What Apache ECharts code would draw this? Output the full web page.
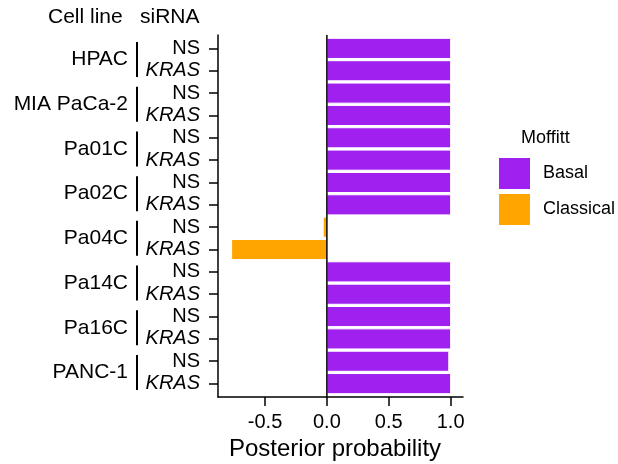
<!DOCTYPE html>
<html lang="en">
<head>
  <meta charset="UTF-8" />
  <title>Posterior probability by cell line</title>
  <script src="https://cdn.jsdelivr.net/npm/echarts@6/dist/echarts.min.js"></script>
  <style>
    html, body { margin: 0; padding: 0; width: 100%; height: 100%; background: #fff; overflow: hidden; }
    #chart { width: 618px; height: 464px; }
  </style>
</head>
<body>
<div id="chart"></div>
<script>
/* ==== data ==== */
const cellLines = ['HPAC', 'MIA PaCa-2', 'Pa01C', 'Pa02C', 'Pa04C', 'Pa14C', 'Pa16C', 'PANC-1'];
const sirnas = ['NS', 'KRAS'];
// one value per row, row order: cell line x siRNA (NS, KRAS)
const posterior = [
  1.0, 1.0,     // HPAC
  1.0, 1.0,     // MIA PaCa-2
  1.0, 1.0,     // Pa01C
  1.0, 1.0,     // Pa02C
  -0.03, -0.77, // Pa04C
  1.0, 1.0,     // Pa14C
  1.0, 1.0,     // Pa16C
  0.985, 1.0    // PANC-1
];
const subtype = [
  'Basal', 'Basal', 'Basal', 'Basal', 'Basal', 'Basal', 'Basal', 'Basal',
  'Classical', 'Classical', 'Basal', 'Basal', 'Basal', 'Basal', 'Basal', 'Basal'
];
const subtypes = ['Basal', 'Classical'];
const subtypeColors = ['#A020F0', '#FFA500'];
const xTicks = [-0.5, 0, 0.5, 1];

const FONT = '"Liberation Sans", Arial, Helvetica, sans-serif';
const rowIdx = posterior.map((_, i) => i);
const groupCenters = cellLines.map((_, i) => i * 2 + 0.5);

/* bars drawn through the axes' coordinate system */
const renderBar = (params, api) => {
  const v = api.value(0), i = api.value(1);
  const p0 = api.coord([0, i]);
  const p1 = api.coord([v, i]);
  const h = api.size([0, 1])[1] * 0.9;
  return {
    type: 'rect',
    shape: { x: Math.min(p0[0], p1[0]), y: p0[1] - h / 2, width: Math.abs(p1[0] - p0[0]), height: h },
    style: { fill: api.visual('color'), stroke: '#fff', lineWidth: 1 }
  };
};

const barSeries = subtypes.map((s, k) => ({
  name: s,
  type: 'custom',
  renderItem: renderBar,
  itemStyle: { color: subtypeColors[k] },
  encode: { x: 0, y: 1 },
  data: rowIdx.filter(i => subtype[i] === s).map(i => [posterior[i], i]),
  z: 2
}));

const chart = echarts.init(document.getElementById('chart'));
chart.setOption({
  backgroundColor: '#fff',
  animation: false,
  textStyle: { fontFamily: FONT },
  title: [
    { text: 'Cell line', left: 48, top: 7, padding: 0, textStyle: { fontSize: 21, fontWeight: 'normal', color: '#000', fontFamily: FONT } },
    { text: 'siRNA', left: 140, top: 7, padding: 0, textStyle: { fontSize: 21, fontWeight: 'normal', color: '#000', fontFamily: FONT } },
    { text: 'Moffitt', left: 521, top: 129, padding: 0, textStyle: { fontSize: 18, fontWeight: 'normal', color: '#000', fontFamily: FONT } }
  ],
  legend: {
    data: subtypes,
    orient: 'vertical',
    left: 499, top: 158,
    padding: 0,
    icon: 'rect',
    itemWidth: 31, itemHeight: 31, itemGap: 5,
    itemStyle: { borderWidth: 0 },
    textStyle: { fontSize: 18, color: '#000', fontFamily: FONT, padding: [0, 0, 0, 8] }
  },
  grid: { left: 218, right: 155, top: 35, bottom: 67, outerBoundsMode: 'none', containLabel: false },
  xAxis: {
    type: 'value',
    min: -0.88, max: 1.1,
    splitLine: { show: false },
    axisLine: { show: true, onZero: false, lineStyle: { color: '#000', width: 1.5 } },
    axisTick: { show: true, length: 9, customValues: xTicks, lineStyle: { color: '#000', width: 1.5 } },
    axisLabel: { customValues: xTicks, fontSize: 20, color: '#000', margin: 15, fontFamily: FONT,
      formatter: v => v.toFixed(1) },
    name: 'Posterior probability',
    nameLocation: 'middle',
    nameGap: 39,
    nameTextStyle: { fontSize: 24, color: '#000', fontFamily: FONT, padding: [0, 11, 0, 0] }
  },
  yAxis: [
    {
      type: 'value',
      min: -0.6, max: 15.6,
      inverse: true,
      splitLine: { show: false },
      axisLine: { show: true, onZero: false, lineStyle: { color: '#000', width: 1.5 } },
      axisTick: { show: true, length: 9, customValues: rowIdx, lineStyle: { color: '#000', width: 1.5 } },
      axisLabel: {
        customValues: rowIdx,
        margin: 18,
        formatter: v => {
          const s = sirnas[Math.round(v) % 2];
          return s === 'KRAS' ? '{it|' + s + '}' : '{up|' + s + '}';
        },
        rich: {
          up: { fontSize: 20, color: '#000', fontFamily: FONT },
          it: { fontSize: 20, color: '#000', fontStyle: 'italic', fontFamily: FONT }
        }
      }
    },
    {
      type: 'value',
      position: 'left',
      offset: 80,
      min: -0.6, max: 15.6,
      inverse: true,
      splitLine: { show: false },
      axisLine: { show: false, onZero: false },
      axisTick: { show: false },
      axisLabel: {
        customValues: groupCenters,
        margin: 0,
        formatter: v => '{n|' + cellLines[Math.round((v - 0.5) / 2)] + '}{b|}',
        rich: {
          n: { fontSize: 21, color: '#000', fontFamily: FONT, padding: [0, 8, 0, 0] },
          b: { width: 2, height: 35, backgroundColor: '#000' }
        }
      }
    }
  ],
  series: [
    ...barSeries,
    {
      name: 'zero',
      type: 'line',
      data: [[0, -0.6], [0, 15.6]],
      symbol: 'none',
      silent: true,
      lineStyle: { color: '#000', width: 1.5 },
      z: 5
    }
  ]
});
</script>
</body>
</html>
